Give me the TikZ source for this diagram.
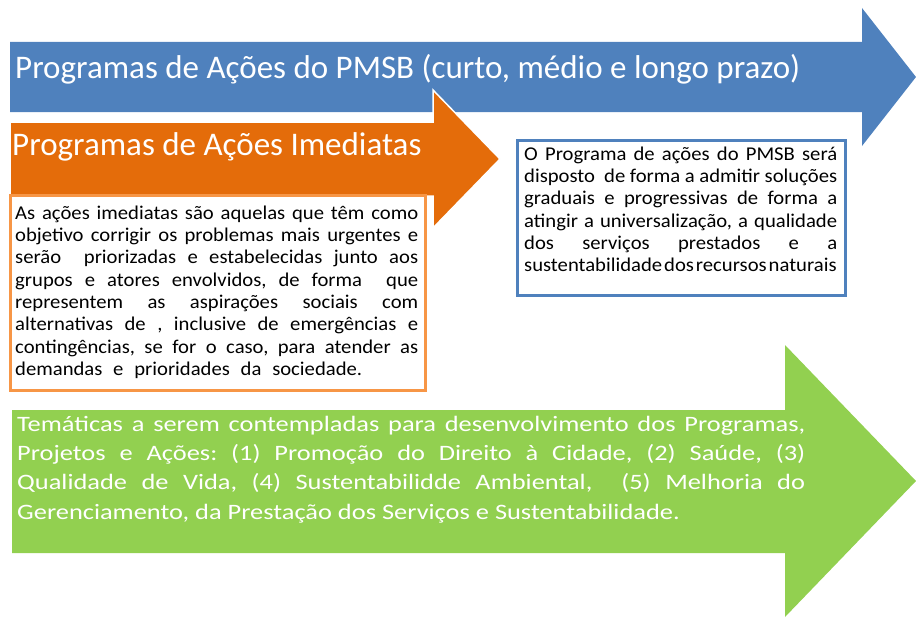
\documentclass[tikz,border=0pt]{standalone}
\usepackage{fontspec}
\setmainfont{Carlito}
\newfontfamily\boxfont[FakeStretch=1.06]{Carlito}
\newfontfamily\greenfont[FakeStretch=1.2]{Carlito}
\frenchspacing

\definecolor{pmsbblue}{HTML}{4F81BD}
\definecolor{imedorange}{HTML}{E46C0A}
\definecolor{imedline}{HTML}{F79646}
\definecolor{temagreen}{HTML}{92D050}

% linha justificada de largura fixa
\newcommand{\jline}[2]{\makebox[#1][s]{#2}}

\begin{document}
\begin{tikzpicture}[x=1pt,y=-1pt,
  titletext/.style={anchor=base west,inner sep=0,text=white,
    font=\fontsize{33}{39}\selectfont},
  boxtext/.style={anchor=north west,inner sep=0,align=left,
    font=\boxfont\fontsize{19.5}{22.3}\selectfont},
  greentext/.style={anchor=north west,inner sep=0,align=left,text=white,
    font=\greenfont\fontsize{22}{29.3}\selectfont}]
  \useasboundingbox (0,0) rectangle (916,618);
  % setas
  \fill[pmsbblue](10,42)--(862,42)--(862,8)--(916,77)--(862,146)--(862,112)--(10,112)--cycle;
  \filldraw[imedorange,draw=white,line width=1.5](10,122)--(433,122)--(433,90)--(500,159)
    --(433,228)--(433,196)--(10,196)--cycle;
  \fill[temagreen](12,410)--(785,410)--(785,345)--(916,481)--(785,617)--(785,553)--(12,553)--cycle;
  % caixas
  \draw[imedline,line width=3,fill=white](10,195) rectangle (425,390);
  \draw[pmsbblue,line width=3,fill=white](517,140) rectangle (845,295);
  % textos
  \node[titletext] (pmsbtitle) at (15,78) {Programas de Ações do PMSB (curto, médio e longo prazo)};
  \node[titletext] (imedtitle) at (12,155) {Programas de Ações Imediatas};
  \node[boxtext] (imedbox) at (15,203.4) {%
    \jline{403pt}{\strut As ações imediatas são aquelas que têm como}\\
    \jline{403pt}{objetivo corrigir os problemas mais urgentes e}\\
    \jline{403pt}{serão~ priorizadas e estabelecidas junto aos}\\
    \jline{403pt}{grupos e atores envolvidos, de forma~ que}\\
    \jline{403pt}{representem as aspirações sociais com}\\
    \jline{403pt}{alternativas de , inclusive de emergências e}\\
    \jline{403pt}{contingências, se for o caso, para atender as}\\
    \jline{347pt}{demandas e prioridades da sociedade.}};
  \node[boxtext] (pmsbbox) at (524,144.4) {%
    \jline{313pt}{\strut O Programa de ações do PMSB será}\\
    \jline{313pt}{disposto~ de forma a admitir soluções}\\
    \jline{313pt}{graduais e progressivas de forma a}\\
    \jline{313pt}{atingir a universalização, a qualidade}\\
    \jline{313pt}{dos serviços prestados e a}\\
    \jline{313pt}{sustentabilidade\hspace{2pt}dos\hspace{2pt}recursos\hspace{2pt}naturais}};
  \node[greentext] (tematicas) at (17,410.5) {%
    \jline{788pt}{\strut Temáticas a serem contempladas para desenvolvimento dos Programas,}\\
    \jline{788pt}{Projetos e Ações: (1) Promoção do Direito à Cidade, (2) Saúde, (3)}\\
    \jline{788pt}{Qualidade de Vida, (4) Sustentabilidde Ambiental,~ (5) Melhoria do}\\
    Gerenciamento, da Prestação dos Serviços e Sustentabilidade.};
\end{tikzpicture}
\end{document}
